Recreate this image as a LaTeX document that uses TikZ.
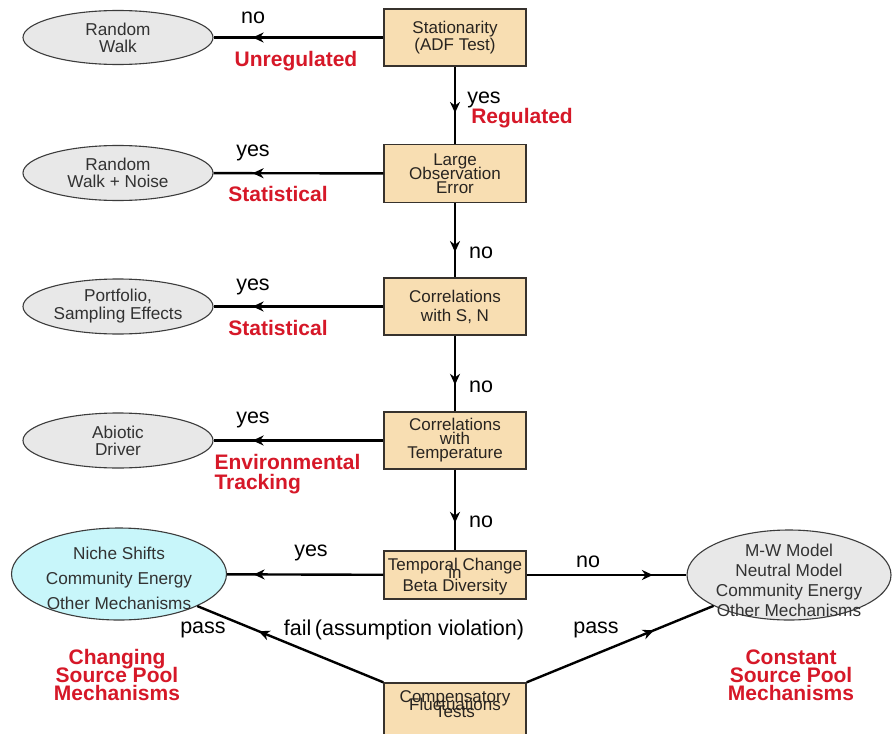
\documentclass[tikz,border=0pt]{standalone}
\usepackage{fontspec}
\setmainfont{Liberation Sans}
\usetikzlibrary{arrows.meta,decorations.markings,shapes.geometric}
\definecolor{boxfill}{RGB}{248,222,178}
\definecolor{boxline}{RGB}{55,50,45}
\definecolor{boxtext}{RGB}{40,36,32}
\definecolor{ellfill}{RGB}{232,232,232}
\definecolor{ellline}{RGB}{60,60,60}
\definecolor{elltext}{RGB}{50,50,50}
\definecolor{nichefill}{RGB}{200,246,250}
\definecolor{redtxt}{RGB}{214,24,40}
\protected\def\tightlines{\lineskiplimit=-100pt\relax}
\begin{document}
\begin{tikzpicture}[x=1pt,y=-1pt,
  boxnode/.style={draw=boxline, line width=1.4pt, fill=boxfill, minimum width=142pt,
    minimum height=57pt, inner sep=0pt, align=center, text=boxtext},
  bfont/.style={font=\fontsize{17}{#1}\selectfont\tightlines},
  ellnode/.style={ellipse, draw=ellline, line width=1.1pt, fill=ellfill, inner xsep=0pt,
    inner ysep=-10pt, align=center, text=elltext},
  efont/.style={font=\fontsize{17.2}{#1}\selectfont\tightlines},
  etext/.style={align=center, text=elltext, inner sep=0pt},
  conn/.style={line width=2.4pt, black},
  midarrow/.style={postaction={decorate, decoration={markings,
    mark=at position #1 with {\arrow{Stealth[length=11pt,width=10pt,inset=3.5pt]}}}}},
  lab/.style={font=\fontsize{21.5}{22}\selectfont, text=black},
  redlab/.style={font=\fontsize{21}{19}\selectfont\bfseries, text=redtxt, align=center}]
\useasboundingbox (0,0) rectangle (893,733);
\clip (0,0) rectangle (893,733);
\fill[white] (0,0) rectangle (893,733);

% decision boxes
\node[boxnode, bfont=17] (stat) at (455,37.5) {Stationarity\\(ADF Test)};
\node[boxnode, bfont=14, minimum height=58pt] (large) at (455,173.5) {Large\\Observation\\Error};
\node[boxnode, bfont=19] (corrsn) at (455,306.5) {Correlations\\with S, N};
\node[boxnode, bfont=14] (corrtemp) at (455,440.5) {Correlations\\with\\Temperature};
\node[boxnode, bfont=8, minimum height=48pt, text depth=0pt] (temporal) at (455,575) {Temporal Change\\in\\[5pt]Beta Diversity};
\node[boxnode, bfont=7.5, minimum height=62pt, text depth=19pt] (comp) at (455,714) {Compensatory\\Fluctuations\\Tests};

% outcome ellipses
\node[ellnode, efont=17, minimum width=190pt, minimum height=54pt] (rw) at (118,37.5) {Random\\Walk};
\node[ellnode, efont=17, minimum width=190pt, minimum height=55pt] (rwn) at (118,173) {Random\\Walk + Noise};
\node[ellnode, efont=18, minimum width=190pt, minimum height=55pt] (port) at (118,306.5) {Portfolio,\\Sampling Effects};
\node[ellnode, efont=17, minimum width=190pt, minimum height=55pt] (abio) at (118,440.5) {Abiotic\\Driver};
\node[ellnode, fill=nichefill, minimum width=215pt, minimum height=92pt] (niche) at (119,574) {};
\node[etext, efont=25] (nichetext) at (119,578) {Niche Shifts\\Community Energy\\Other Mechanisms};
\node[ellnode, minimum width=204pt, minimum height=90pt] (mw) at (789,575) {};
\node[etext, efont=20] (mwtext) at (789,580) {M-W Model\\Neutral Model\\Community Energy\\Other Mechanisms};

% connectors
\draw[conn, midarrow=0.77] (stat) -- (rw);
\draw[conn, midarrow=0.6] (stat) -- (large);
\draw[conn, midarrow=0.77] (large) -- (rwn);
\draw[conn, midarrow=0.66] (large) -- (corrsn);
\draw[conn, midarrow=0.77] (corrsn) -- (port);
\draw[conn, midarrow=0.65] (corrsn) -- (corrtemp);
\draw[conn, midarrow=0.77] (corrtemp) -- (abio);
\draw[conn, midarrow=0.66] (corrtemp) -- (temporal);
\draw[conn, midarrow=0.83] (temporal) -- (niche);
\draw[conn, midarrow=0.79] (temporal) -- (mw);
\draw[conn, midarrow=0.67] (comp.north west) -- (niche);
\draw[conn, midarrow=0.68] (comp.north east) -- (mw);

% connector labels
\node[lab] (l1) at (253,18) {no};
\node[lab] (l2) at (484,100) {yes};
\node[lab] (l3) at (253,153) {yes};
\node[lab] (l4) at (481,253) {no};
\node[lab] (l5) at (253,287) {yes};
\node[lab] (l6) at (481,387) {no};
\node[lab] (l7) at (253,420) {yes};
\node[lab] (l8) at (481,522) {no};
\node[lab] (l9) at (311,553) {yes};
\node[lab] (l10) at (588,562) {no};
\node[lab] (l11) at (203,630) {pass};
\node[lab] (l12) at (404,630) {fail\,(assumption violation)};
\node[lab] (l13) at (596,630) {pass};

% red category labels
\node[redlab] (r1) at (296,61) {Unregulated};
\node[redlab] (r2) at (522,118) {Regulated};
\node[redlab] (r3) at (278,194) {Statistical};
\node[redlab] (r4) at (278,328) {Statistical};
\node[redlab, align=left, anchor=west, font=\fontsize{21}{20}\selectfont\bfseries] (r5) at (211,474) {Environmental\\Tracking};
\node[redlab, font=\fontsize{21}{18}\selectfont\bfseries\tightlines] (r6) at (117,675) {Changing\\Source Pool\\Mechanisms};
\node[redlab, font=\fontsize{21}{18}\selectfont\bfseries\tightlines] (r7) at (791,675) {Constant\\Source Pool\\Mechanisms};
\end{tikzpicture}
\end{document}
